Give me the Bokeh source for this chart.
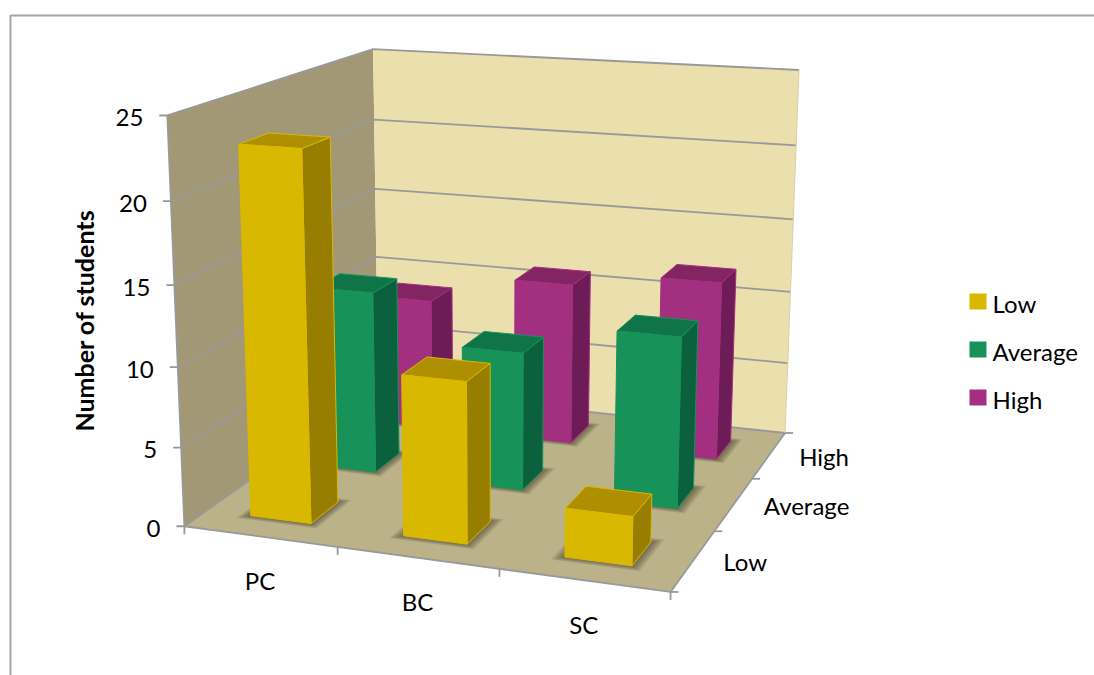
from bokeh.core.properties import value
from bokeh.embed import file_html
from bokeh.models import Range1d
from bokeh.plotting import figure
from bokeh.resources import INLINE
import numpy as np

# Chart content
categories = ["PC", "BC", "SC"]
series_names = ["Low", "Average", "High"]
low_values = [23, 10, 3]
average_values = [12, 9, 11]
high_values = [9, 11, 12]
value_ticks = [0, 5, 10, 15, 20, 25]

FONT = "Lato"
FONT_SIZE = "24px"
TEXT = "#000000"
AXIS_GREY = "#999999"
FRAME_GREY = "#A6A6A6"
BACK_WALL = "#EBDFAE"
SIDE_WALL = "#A39876"
FLOOR = "#BBB28A"

# front, top, side shades for each series
SHADES = {
    "Low": ("#D9B800", "#AE8F00", "#977D00"),
    "Average": ("#179259", "#107449", "#0B613D"),
    "High": ("#A32F80", "#842563", "#6E1C57"),
}
BAR_SIZE = 0.4
BAR_INSET_X = 0.293
BAR_INSET_D = 0.3
X_MAX, D_MAX, Z_MAX = 3.0, 3.0, 25.0

# Camera calibration: points of the plot box in scene units and on the page.
scene_points = [
    (0, 0, 0), (0, 0, 5), (0, 0, 10), (0, 0, 15), (0, 0, 20), (0, 0, 25),
    (3, 3, 0), (3, 3, 5), (3, 3, 10), (3, 3, 15), (3, 3, 20), (3, 3, 25),
    (0, 3, 10), (0, 3, 15), (0, 3, 20), (0, 3, 25),
    (1, 0, 0), (2, 0, 0), (3, 0, 0), (3, 1, 0), (3, 2, 0),
]
page_points = [
    (184, 525), (180, 447), (177, 367), (174, 285), (171, 201), (167, 115),
    (784, 432), (786, 363), (790, 292), (793, 219), (796, 145), (798, 69),
    (376, 257), (375, 188), (374, 119), (372, 48),
    (337, 547), (498, 568), (669, 591), (716, 531), (753, 478),
]


def solve_camera():
    rows, rhs = [], []
    for (x, d, z), (u, v) in zip(scene_points, page_points):
        rows.append([x, d, z, 1, 0, 0, 0, 0, -u * x, -u * d, -u * z])
        rhs.append(u)
        rows.append([0, 0, 0, 0, x, d, z, 1, -v * x, -v * d, -v * z])
        rhs.append(v)
    sol = np.linalg.lstsq(np.array(rows, float), np.array(rhs, float), rcond=None)[0]
    return np.append(sol, 1.0).reshape(3, 4)


CAMERA = solve_camera()


def project(points):
    pts = np.column_stack([np.array(points, float), np.ones(len(points))])
    out = pts @ CAMERA.T
    return (out[:, 0] / out[:, 2]).tolist(), (out[:, 1] / out[:, 2]).tolist()


p = figure(
    width=1094, height=675, output_backend="svg", toolbar_location=None,
    x_range=Range1d(0, 1094), y_range=Range1d(675, 0), min_border=0,
    outline_line_color=None, background_fill_color="#FFFFFF",
)
p.xaxis.visible = False
p.yaxis.visible = False
p.grid.visible = False


def face(points, fill, line=None, width=1.0, alpha=1.0):
    xs, ys = project(points)
    p.patch(xs, ys, fill_color=fill, fill_alpha=alpha,
            line_color=line if line else None, line_width=width)


def polyline(points, color=AXIS_GREY, width=1.8):
    xs, ys = project(points)
    p.line(xs, ys, line_color=color, line_width=width)


def label(x, y, text, align="center", **extra):
    p.text([x], [y], text=[text], text_font=value(FONT), text_font_size=FONT_SIZE,
           text_color=TEXT, text_align=align, text_baseline="middle", **extra)


# Chart frame: only the top and left edges fall inside the page
p.line([10, 10, 1094], [675, 15, 15], line_color=FRAME_GREY, line_width=2)

# Walls and floor
face([(0, 0, 0), (0, D_MAX, 0), (0, D_MAX, Z_MAX), (0, 0, Z_MAX)], SIDE_WALL)
face([(0, D_MAX, 0), (X_MAX, D_MAX, 0), (X_MAX, D_MAX, Z_MAX), (0, D_MAX, Z_MAX)], BACK_WALL)
face([(0, 0, 0), (X_MAX, 0, 0), (X_MAX, D_MAX, 0), (0, D_MAX, 0)], FLOOR)

# Value gridlines run along the side wall and the back wall
for tick in value_ticks:
    polyline([(0, 0, tick), (0, D_MAX, tick), (X_MAX, D_MAX, tick)])

# Box edges
polyline([(0, 0, 0), (0, 0, Z_MAX)])
polyline([(0, 0, 0), (X_MAX, 0, 0), (X_MAX, D_MAX, 0)])
polyline([(X_MAX, D_MAX, 0), (X_MAX, D_MAX, Z_MAX)], color="#D8CFA8", width=1)

# Tick marks and labels, offset in page pixels from the projected axis positions
for tick in value_ticks:
    xs, ys = project([(0, 0, tick)])
    p.line([xs[0] - 8, xs[0]], [ys[0], ys[0]], line_color=AXIS_GREY, line_width=1.8)
    label(xs[0] - 24, ys[0] + 2, str(tick), align="right")

for i in range(len(categories) + 1):
    xs, ys = project([(i, 0, 0)])
    p.line([xs[0], xs[0]], [ys[0], ys[0] + 8], line_color=AXIS_GREY, line_width=1.8)
for i in range(len(series_names) + 1):
    xs, ys = project([(X_MAX, i, 0)])
    p.line([xs[0], xs[0] + 8], [ys[0], ys[0]], line_color=AXIS_GREY, line_width=1.8)

for i, name in enumerate(categories):
    xs, ys = project([(i + 0.5, 0, 0)])
    label(xs[0], ys[0] + 44, name)
for i, name in enumerate(series_names):
    xs, ys = project([(X_MAX, i + 0.5, 0)])
    label(xs[0] + 30, ys[0] + 1, name, align="left")

p.text([83], [320], text=["Number of students"], angle=[np.pi / 2], text_font=value(FONT),
       text_font_size="25px", text_font_style="bold", text_color=TEXT,
       text_align="center", text_baseline="middle")

series_values = [low_values, average_values, high_values]


def footprint(x0, x1, d0, d1):
    return [(x0, d0, 0), (x1, d0, 0), (x1, d1, 0), (x0, d1, 0)]


# Soft contact shadows on the floor
for row in range(len(series_names)):
    for col in range(len(categories)):
        x0, d0 = col + BAR_INSET_X, row + BAR_INSET_D
        for grow in (0.065, 0.055, 0.045, 0.035, 0.025, 0.015):
            face(footprint(x0 - grow, x0 + BAR_SIZE + grow, d0 - grow, d0 + BAR_SIZE + grow),
                 "#3E3420", alpha=0.11)

# Bars, painted from the back row forward and left to right
for row in reversed(range(len(series_names))):
    front, top, side = SHADES[series_names[row]]
    for col in range(len(categories)):
        h = series_values[row][col]
        x0, x1 = col + BAR_INSET_X, col + BAR_INSET_X + BAR_SIZE
        d0, d1 = row + BAR_INSET_D, row + BAR_INSET_D + BAR_SIZE
        face([(x1, d0, 0), (x1, d1, 0), (x1, d1, h), (x1, d0, h)], side, line=front, width=1)
        face([(x0, d0, h), (x1, d0, h), (x1, d1, h), (x0, d1, h)], top, line=front, width=1)
        face([(x0, d0, 0), (x1, d0, 0), (x1, d0, h), (x0, d0, h)], front, line=front, width=1)

# Legend
legend_x, legend_top, legend_step = 969, 293, 48
for i, name in enumerate(series_names):
    y = legend_top + i * legend_step
    p.quad(left=[legend_x], right=[legend_x + 17], top=[y], bottom=[y + 16],
           fill_color=SHADES[name][0], line_color=None)
    label(legend_x + 23, y + 10, name, align="left")

open("out.html", "w").write(file_html(p, INLINE))
